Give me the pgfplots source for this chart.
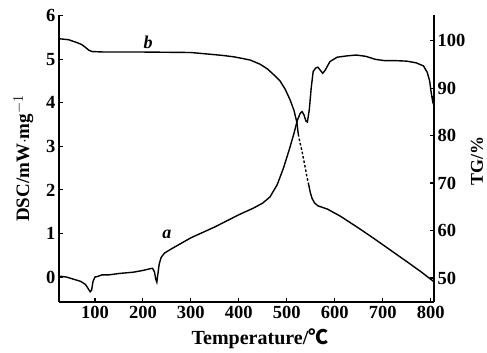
\documentclass[border=0pt]{standalone}
\usepackage{pgfplots}
\pgfplotsset{compat=1.18}
\usepackage{fontspec}
\setmainfont{Liberation Serif}
\newfontfamily\cjk{Noto Sans CJK SC}
\begin{document}
\begin{tikzpicture}[font=\fontsize{18}{20}\selectfont\bfseries]
\pgfplotsset{
  common/.style={
    scale only axis, width=375pt, height=287pt,
    xmin=25, xmax=807,
    axis line style={-, line width=1.3pt},
    tick style={line width=1.1pt, black},
    major tick length=4pt,
    /pgf/number format/assume math mode=true,
    tick label style={font=\fontsize{18.5}{20}\selectfont\bfseries},
  }
}
\begin{axis}[common, name=ax,
  ymin=-0.575, ymax=6.02,
  axis x line*=bottom, axis y line*=left,
  xtick={100,200,...,800}, ytick={0,1,...,6},
  x tick label style={yshift=-1pt},
  xlabel={Temperature/{\cjk ℃}},
  xlabel style={font=\fontsize{20}{22}\selectfont\bfseries, at={(axis description cs:0.536,-0.127)}, anchor=center},
  ylabel={DSC/mW$\cdot$mg$^{-1}$},
  ylabel style={font=\fontsize{19}{21}\selectfont\bfseries, at={(axis description cs:-0.095,0.5)}, anchor=center},
]
\addplot[black, line width=1.4pt] coordinates {
(25,0.02) (40,0.0) (55,-0.05) (70,-0.1) (80,-0.17) (86,-0.27) (90,-0.34) (93,-0.3) (96,-0.1) (100,0.0) (105,0.01) (115,0.05) (130,0.05) (150,0.08) (180,0.11) (200,0.15) (215,0.19) (220,0.2) (224,0.12) (227,-0.06) (229,-0.12) (231,0.05) (234,0.3) (238,0.45) (245,0.55) (260,0.65) (300,0.9) (350,1.15) (400,1.43) (430,1.58) (450,1.7) (465,1.84) (480,2.12) (493,2.5) (505,2.92) (515,3.3) (522,3.6) (528,3.76) (532,3.8) (536,3.72) (540,3.58) (543,3.56) (547,3.85) (551,4.35) (555,4.72) (560,4.8) (565,4.82) (570,4.75) (575,4.68) (580,4.75) (590,4.95) (605,5.05) (625,5.08) (645,5.1) (665,5.07) (685,5.0) (705,4.97) (730,4.97) (750,4.96) (770,4.92) (785,4.85) (793,4.7) (798,4.5) (801,4.25) (804,4.05) (806,4.15)
};
\node at (axis cs:250,0.97) {\textit{a}};
\node at (axis cs:211,5.4) {\textit{b}};
\end{axis}
\begin{axis}[common,
  ymin=44.94, ymax=105.4,
  axis x line=none, axis y line*=right,
  ytick={50,60,...,100},
  ylabel={TG/\%},
  ylabel style={font=\fontsize{18}{20}\selectfont\bfseries, at={(axis description cs:1.115,0.49)}, anchor=center},
]
\addplot[black, line width=1.4pt] coordinates {
(25,100.4) (45,100.2) (62,99.6) (72,99.2) (80,98.6) (87,98.0) (94,97.7) (120,97.6) (200,97.6) (300,97.5) (333,97.2) (365,96.9) (389,96.6) (410,96.2) (424,95.9) (445,95.0) (460,94.0) (472,92.9) (486,91.5) (497,89.7) (507,87.5) (515,85.3) (521,82.8) (524,80.3)
};
\addplot[black, line width=1.4pt, dash pattern=on 2.5pt off 2pt] coordinates {
(524,80.3) (528,78.3) (532,76.6) (536,74.5) (539,73.0) (542,71.3) (545,70.0)
};
\addplot[black, line width=1.4pt] coordinates {
(545,70.0) (549,68.0) (553,66.7) (558,65.8) (565,65.2) (585,64.5) (612,63.0) (650,60.5) (682,58.3) (720,55.6) (751,53.4) (780,51.3) (807,49.2)
};
\end{axis}
\path ([xshift=-59pt,yshift=-50pt]ax.south west) rectangle ([xshift=53pt,yshift=15pt]ax.north east);
\end{tikzpicture}
\end{document}
